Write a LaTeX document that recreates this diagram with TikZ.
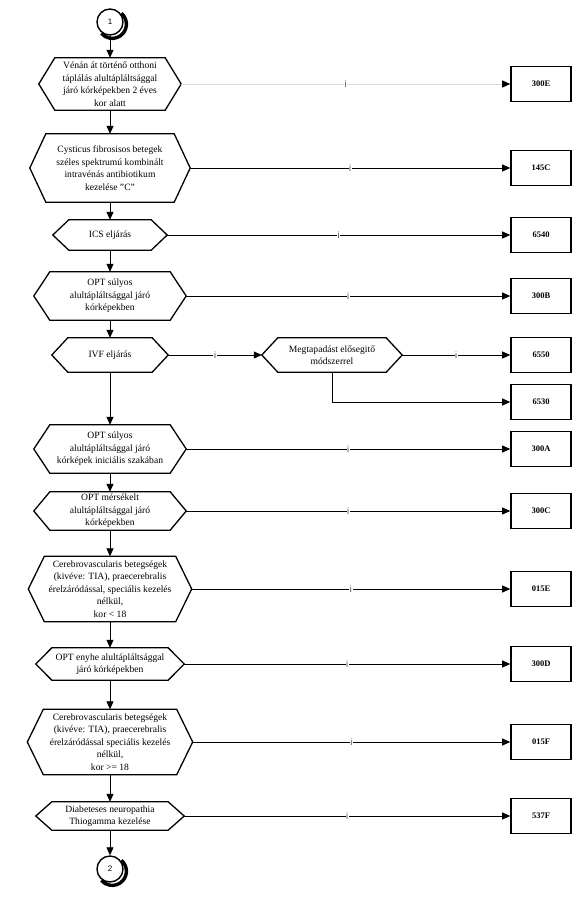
\documentclass[tikz,border=0pt]{standalone}
\usepackage{fontspec}
\setmainfont{Liberation Serif}
\setsansfont{Liberation Sans}
\usetikzlibrary{arrows.meta}

\tikzset{
  hexbox/.style={align=center, inner sep=0pt, font=\fontsize{9.6}{12.5}\selectfont},
  codebox/.style={draw, line width=1.6pt, minimum width=60pt, minimum height=35pt,
    font=\fontsize{8.5}{10}\selectfont\bfseries},
  conn/.style={line width=0.8pt, -{Triangle[length=8pt,width=7pt]}},
  ilabel/.style={midway, fill=white, inner sep=0.6pt, text=black!75,
    font=\sffamily\fontsize{9}{10}\selectfont},
  onpage/.style={circle, draw, line width=1.4pt, fill=white, minimum size=26pt, inner sep=0pt,
    font=\sffamily\fontsize{8}{9}\selectfont},
  shade/.style={line width=3.4pt},
}
\newcommand{\hexline}[1]{\draw[line width=1.3pt, line join=miter] (#1.west) -- ([xshift=16pt]#1.north west)
  -- ([xshift=-16pt]#1.north east) -- (#1.east) -- ([xshift=-16pt]#1.south east)
  -- ([xshift=16pt]#1.south west) -- cycle;}

\begin{document}
\begin{tikzpicture}[x=1pt,y=-1pt]
\useasboundingbox (0,0) rectangle (586,909);

% page connectors
\node[onpage] (c1) at (110,22) {1};
\node[onpage] (c2) at (110,869) {2};
\draw[shade] ([shift={(2.2pt,-2.2pt)}]c1.center) ++(50:14.2pt) arc[start angle=50, end angle=-140, radius=14.2pt];
\draw[shade] ([shift={(2.2pt,-2.2pt)}]c2.center) ++(50:14.2pt) arc[start angle=50, end angle=-140, radius=14.2pt];

% main column
\node[hexbox, minimum width=142pt, minimum height=52pt] (n1) at (110,84)
  {Vénán át történő otthoni\\táplálás alultápláltsággal\\járó kórképekben 2 éves\\kor alatt};
\node[hexbox, minimum width=160pt, minimum height=68pt] (n2) at (110,168)
  {Cysticus fibrosisos betegek\\széles spektrumú kombinált\\intravénás antibiotikum\\kezelése "C"};
\node[hexbox, minimum width=114pt, minimum height=30pt] (ics) at (110,235) {ICS eljárás};
\node[hexbox, minimum width=152pt, minimum height=48pt] (opt1) at (110,296)
  {OPT súlyos\\alultápláltsággal járó\\kórképekben};
\node[hexbox, minimum width=116pt, minimum height=34pt] (ivf) at (110,355) {IVF eljárás};
\node[hexbox, minimum width=140pt, minimum height=34pt] (megt) at (332,355)
  {Megtapadást elősegitő\\módszerrel};
\node[hexbox, minimum width=152pt, minimum height=48pt] (opt2) at (110,449)
  {OPT súlyos\\alultápláltsággal járó\\kórképek iniciális szakában};
\node[hexbox, minimum width=152pt, minimum height=38pt] (opt3) at (110,511)
  {OPT mérsékelt\\alultápláltsággal járó\\kórképekben};
\node[hexbox, minimum width=163pt, minimum height=65pt] (cer1) at (110,589)
  {Cerebrovascularis betegségek\\(kivéve: TIA), praecerebralis\\érelzáródással, speciális kezelés\\nélkül,\\kor < 18};
\node[hexbox, minimum width=148pt, minimum height=32pt] (opt4) at (110,664)
  {OPT enyhe alultápláltsággal\\járó kórképekben};
\node[hexbox, minimum width=165pt, minimum height=65pt] (cer2) at (110,742)
  {Cerebrovascularis betegségek\\(kivéve: TIA), praecerebralis\\érelzáródással speciális kezelés\\nélkül,\\kor >= 18};
\node[hexbox, minimum width=148pt, minimum height=28pt] (diab) at (110,816)
  {Diabeteses neuropathia\\Thiogamma kezelése};

\foreach \n in {n1,n2,ics,opt1,ivf,megt,opt2,opt3,cer1,opt4,cer2,diab}
  \hexline{\n};

% result codes
\node[codebox] (k300E) at (541,84) {300E};
\node[codebox] (k145C) at (541,168) {145C};
\node[codebox] (k6540) at (541,235) {6540};
\node[codebox] (k300B) at (541,296) {300B};
\node[codebox] (k6550) at (541,355) {6550};
\node[codebox] (k6530) at (541,402) {6530};
\node[codebox] (k300A) at (541,449) {300A};
\node[codebox] (k300C) at (541,511) {300C};
\node[codebox] (k015E) at (541,589) {015E};
\node[codebox] (k300D) at (541,664) {300D};
\node[codebox] (k015F) at (541,742) {015F};
\node[codebox] (k537F) at (541,816) {537F};

% down the column
\draw[conn] (c1) -- (n1);
\draw[conn] (n1) -- (n2);
\draw[conn] (n2) -- (ics);
\draw[conn] (ics) -- (opt1);
\draw[conn] (opt1) -- (ivf);
\draw[conn] (ivf) -- (opt2);
\draw[conn] (opt2) -- (opt3);
\draw[conn] (opt3) -- (cer1);
\draw[conn] (cer1) -- (opt4);
\draw[conn] (opt4) -- (cer2);
\draw[conn] (cer2) -- (diab);
\draw[conn] (diab) -- (c2);

% to the right
\draw[conn, draw=black!15, -{Triangle[length=8pt,width=7pt,color=black]}] (n1.east) -- (k300E) node[ilabel] {i};
\draw[conn] (n2.east) -- (k145C) node[ilabel] {i};
\draw[conn] (ics.east) -- (k6540) node[ilabel] {i};
\draw[conn] (opt1.east) -- (k300B) node[ilabel] {i};
\draw[conn] (ivf.east) -- (megt.west) node[ilabel] {i};
\draw[conn] (megt.east) -- (k6550) node[ilabel] {i};
\draw[conn] (megt.south) |- (k6530);
\draw[conn] (opt2.east) -- (k300A) node[ilabel] {i};
\draw[conn] (opt3.east) -- (k300C) node[ilabel] {i};
\draw[conn] (cer1.east) -- (k015E) node[ilabel] {i};
\draw[conn] (opt4.east) -- (k300D) node[ilabel] {i};
\draw[conn] (cer2.east) -- (k015F) node[ilabel] {i};
\draw[conn] (diab.east) -- (k537F) node[ilabel] {i};
\end{tikzpicture}
\end{document}
